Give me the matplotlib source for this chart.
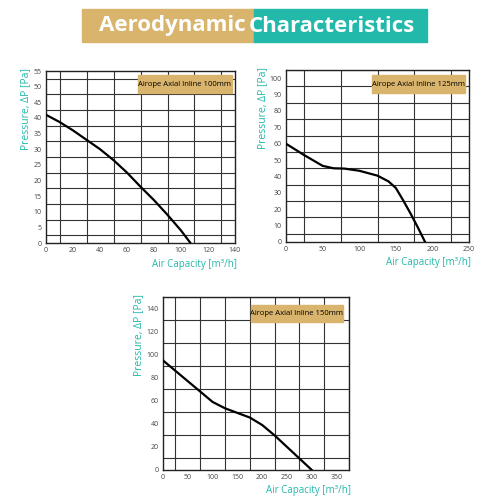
import numpy as np
import matplotlib
matplotlib.use("Agg")
import matplotlib.pyplot as plt
from matplotlib.patches import Rectangle

plt.rcParams['font.family'] = ['Open Sans', 'DejaVu Sans']

GOLD = '#D9B46C'
TEAL = '#22B8AA'

# chart data
flow_100 = [0, 10, 20, 30, 40, 50, 60, 70, 80, 90, 100, 107]
press_100 = [41, 38.7, 36, 33, 30, 26.5, 22.5, 18, 13.7, 9, 4, 0]

flow_125 = [0, 25, 50, 65, 80, 100, 125, 140, 150, 160, 170, 180, 190]
press_125 = [60, 53, 46.5, 45, 44.8, 43.5, 40.5, 37, 33, 25.5, 17.5, 9, 0]

flow_150 = [0, 25, 50, 75, 100, 125, 150, 175, 200, 225, 250, 275, 300]
press_150 = [95, 86, 77, 68, 59, 53.5, 49.5, 45.5, 39, 30, 20, 10, 0]

labels = ['Airope Axial Inline 100mm', 'Airope Axial Inline 125mm',
          'Airope Axial Inline 150mm']

W = H = 500
fig = plt.figure(figsize=(5, 5), dpi=100)


def px_rect(l, t, r, b):
    return [l / W, 1 - b / H, (r - l) / W, (b - t) / H]


# title banner
fig.patches.append(Rectangle((82 / W, 1 - 42 / H), 172 / W, 33 / H,
                             transform=fig.transFigure, color=GOLD, zorder=0))
fig.patches.append(Rectangle((254 / W, 1 - 42 / H), 173 / W, 33 / H,
                             transform=fig.transFigure, color=TEAL, zorder=0))
fig.text(246 / W, 1 - 26 / H, 'Aerodynamic', color='white', fontsize=16,
         fontweight='bold', ha='right', va='center')
fig.text(249 / W, 1 - 26 / H, 'Characteristics', color='white', fontsize=16,
         fontweight='bold', ha='left', va='center')

specs = [
    # rect, x, y, xlim, ylim, xmajor, ymajor, xgrid, ygrid, label, box, ylabel x
    (px_rect(46, 71, 235, 243), flow_100, press_100, 140, 140, 55, 55, 20, 5,
     10, 2.5, labels[0], (138, 75, 232, 93), 26),
    (px_rect(286, 70, 469, 242), flow_125, press_125, 250, 250, 105, 100, 50,
     10, 25, 5, labels[1], (372, 75, 465, 93), 263),
    (px_rect(163, 297, 349, 470), flow_150, press_150, 375, 350, 150, 140, 50,
     20, 25, 10, labels[2], (251, 305, 343, 322), 139),
]

for (rect, xs, ys, xmax, xtop, ymax, ytop, xmaj, ymaj, xg, yg, lab, box,
     ylx) in specs:
    ax = fig.add_axes(rect)
    ax.set_xlim(0, xmax)
    ax.set_ylim(0, ymax)
    ax.set_xticks(np.arange(0, xtop + 0.1, xmaj))
    ax.set_yticks(np.arange(0, ytop + 0.1, ymaj))
    ax.set_xticks(np.arange(0, xmax + 0.1, xg), minor=True)
    ax.set_yticks(np.arange(0, ymax + 0.1, yg), minor=True)
    ax.grid(which='minor', color='#333333', linewidth=0.8)
    ax.tick_params(which='both', length=0, labelsize=5, colors='#444444', pad=3)
    for s in ax.spines.values():
        s.set_color('#222222')
        s.set_linewidth(1)
    ax.plot(xs, ys, color='black', linewidth=1.6, zorder=5)

    l, t, r, b = box
    fig.patches.append(Rectangle((l / W, 1 - b / H), (r - l) / W, (b - t) / H,
                                 transform=fig.transFigure, color=GOLD, zorder=10))
    fig.text((l + r) / 2 / W, 1 - (t + b) / 2 / H, lab, fontsize=5.5,
             color='black', ha='center', va='center', zorder=11)

    # axis titles
    pb = rect[1]
    pr = rect[0] + rect[2]
    pt = rect[1] + rect[3]
    fig.text(pr + 2 / W, pb - 21 / H, 'Air Capacity [m³/h]', color=TEAL,
             fontsize=7, ha='right', va='center')
    fig.text(ylx / W, pt + 3 / H, 'Pressure, ΔP [Pa]', color=TEAL, fontsize=7.5,
             rotation=90, ha='center', va='top')

fig.savefig('out.png', dpi=100, facecolor='white')
